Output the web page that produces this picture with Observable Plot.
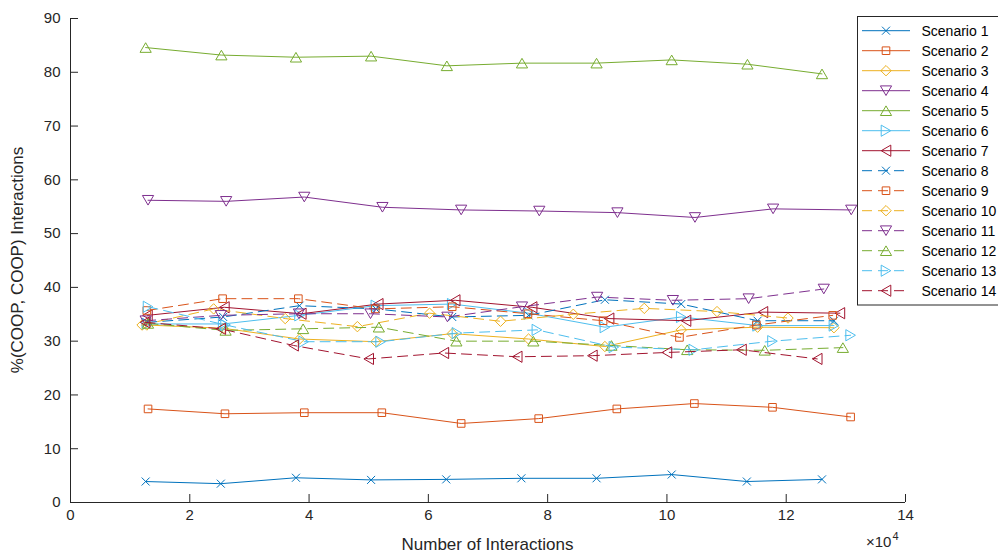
<!DOCTYPE html>
<html><head><meta charset="utf-8">
<script src="https://cdn.jsdelivr.net/npm/d3@7"></script>
<script src="https://cdn.jsdelivr.net/npm/@observablehq/plot@0.6"></script>
<style>body{margin:0;background:#fff;}</style>
</head><body><div id="chart"></div>
<script>
const scenarioNames = ["Scenario 1","Scenario 2","Scenario 3","Scenario 4","Scenario 5","Scenario 6","Scenario 7",
  "Scenario 8","Scenario 9","Scenario 10","Scenario 11","Scenario 12","Scenario 13","Scenario 14"];
const colors = ["#0072BD","#D95319","#EDB120","#7E2F8E","#77AC30","#4DBEEE","#A2142F"];
const markerTypes = ["x","square","diamond","down","up","right","left"];

const x1 = [12600,25200,37800,50400,63000,75600,88200,100800,113400,126000];
const y1 = [3.9,3.5,4.6,4.2,4.3,4.5,4.5,5.2,3.9,4.3];
const x2 = [13000,25900,39200,52200,65500,78500,91600,104600,117700,130800];
const y2 = [17.4,16.5,16.7,16.7,14.7,15.6,17.4,18.4,17.7,15.9];
const x3 = [12800,25600,38400,51200,64000,76800,89600,102400,115200,128000];
const y3 = [33.0,32.4,30.4,29.9,31.4,30.4,29.0,32.1,32.6,32.5];
const x4 = [13000,26100,39200,52300,65500,78600,91700,104700,117800,130900];
const y4 = [56.2,56.0,56.8,54.9,54.4,54.2,53.9,53.0,54.6,54.4];
const x5 = [12600,25300,37800,50400,63100,75700,88200,100800,113500,126000];
const y5 = [84.6,83.2,82.8,83.0,81.2,81.7,81.7,82.3,81.5,79.7];
const x6 = [12800,25600,38400,51200,64000,76800,89600,102400,115200,128000];
const y6 = [33.2,33.2,34.8,36.6,36.9,35.2,32.6,34.5,32.9,32.9];
const x7 = [12900,25800,38700,51600,64500,77400,90300,103200,116100,129000];
const y7 = [34.8,36.3,35.1,36.9,37.6,36.3,34.2,33.8,35.4,35.2];
const x8 = [12800,25600,38400,51200,64000,76800,89600,102400,115200,128000];
const y8 = [33.5,34.5,36.6,36.0,34.5,34.8,37.7,36.9,33.8,33.8];
const x9 = [12800,25500,38200,51100,64000,76700,89300,102100,115000,127800];
const y9 = [35.7,37.9,37.9,36.0,36.4,35.1,33.8,30.7,33.0,34.8];
const x10 = [12000,24000,36000,48100,60200,72100,84300,96200,108400,120300];
const y10 = [33.0,36.0,34.2,32.7,35.2,33.7,35.0,36.1,35.5,34.3];
const x11 = [12600,25200,38300,50300,63200,75700,88300,101000,113700,126300];
const y11 = [33.8,34.8,35.1,35.1,34.5,36.4,38.2,37.6,37.9,39.7];
const x12 = [13000,26000,39000,51700,64700,77600,90700,103400,116400,129500];
const y12 = [33.3,32.0,32.3,32.6,30.0,30.0,29.2,28.4,28.3,28.8];
const x13 = [13000,26000,39100,52000,64800,78200,91100,104500,117700,130800];
const y13 = [36.4,33.0,29.9,29.9,31.5,32.1,28.9,28.4,30.0,31.1];
const x14 = [12500,25200,37400,50000,62600,74900,87500,100000,112500,125200];
const y14 = [33.5,32.3,29.2,26.7,27.8,27.1,27.3,27.9,28.4,26.7];

const xTicks = [0,20000,40000,60000,80000,100000,120000,140000];
const yTicks = [0,10,20,30,40,50,60,70,80,90];

const xs = [x1,x2,x3,x4,x5,x6,x7,x8,x9,x10,x11,x12,x13,x14];
const ys = [y1,y2,y3,y4,y5,y6,y7,y8,y9,y10,y11,y12,y13,y14];

function makeSymbol(type) {
  return {draw(c) {
    if (type === "x") { const r = 4; c.moveTo(-r,-r); c.lineTo(r,r); c.moveTo(r,-r); c.lineTo(-r,r); }
    else if (type === "square") { const r = 3.8; c.moveTo(-r,-r); c.lineTo(r,-r); c.lineTo(r,r); c.lineTo(-r,r); c.closePath(); }
    else if (type === "diamond") { const r = 5.2; c.moveTo(0,-r); c.lineTo(r,0); c.lineTo(0,r); c.lineTo(-r,0); c.closePath(); }
    else {
      const w = 5.6, h = 4.8;
      if (type === "up") { c.moveTo(0,-h); c.lineTo(w,h); c.lineTo(-w,h); }
      else if (type === "down") { c.moveTo(0,h); c.lineTo(w,-h); c.lineTo(-w,-h); }
      else if (type === "right") { c.moveTo(h,0); c.lineTo(-h,w); c.lineTo(-h,-w); }
      else { c.moveTo(-h,0); c.lineTo(h,w); c.lineTo(h,-w); }
      c.closePath();
    }
  }};
}
const symbols = Object.fromEntries(markerTypes.map(t => [t, makeSymbol(t)]));
const dash = "10,6";

const marks = [];
scenarioNames.forEach((name, i) => {
  const data = xs[i].map((x, j) => ({x, y: ys[i][j]}));
  const color = colors[i % 7];
  const dashed = i >= 7;
  marks.push(Plot.line(data, {x: "x", y: "y", stroke: color, strokeWidth: 1, strokeDasharray: dashed ? dash : null}));
  marks.push(Plot.dot(data, {x: "x", y: "y", symbol: symbols[markerTypes[i % 7]], r: 4, fill: "none", stroke: color, strokeWidth: 1}));
});

const W = 998, H = 554, mL = 70, mR = 93, mT = 18, mB = 52;
const axisColor = "#262626";

const chart = Plot.plot({
  width: W, height: H,
  marginLeft: mL, marginRight: mR, marginTop: mT, marginBottom: mB,
  x: {domain: [0, 140000]},
  y: {domain: [0, 90]},
  style: {fontFamily: "'Liberation Sans', Arial, sans-serif", color: axisColor, background: "white", overflow: "visible"},
  marks: [
    Plot.gridX(xTicks, {insetTop: H - mT - mB - 8, stroke: axisColor, strokeOpacity: 1, strokeWidth: 1}),
    Plot.gridY(yTicks, {insetRight: W - mL - mR - 8, stroke: axisColor, strokeOpacity: 1, strokeWidth: 1}),
    Plot.axisX(xTicks, {tickSize: 0, tickPadding: 7, tickFormat: d => d / 1e4, fontSize: 15, label: null}),
    Plot.axisY(yTicks, {tickSize: 0, tickPadding: 10, fontSize: 15, label: null}),
    ...marks,
    Plot.ruleX([0], {stroke: axisColor, strokeWidth: 1}),
    Plot.ruleY([0], {stroke: axisColor, strokeWidth: 1})
  ]
});

const svg = d3.select(chart);
const font = "'Liberation Sans', Arial, sans-serif";
svg.append("text").attr("x", (mL + W - mR) / 2).attr("y", 550).attr("text-anchor", "middle")
  .attr("font-size", 17).attr("font-family", font).attr("fill", axisColor).text("Number of Interactions");
svg.append("text").attr("transform", `translate(23,${(mT + H - mB) / 2}) rotate(-90)`).attr("text-anchor", "middle")
  .attr("font-size", 17).attr("font-family", font).attr("fill", axisColor).text("%(COOP, COOP) Interactions");
const exp = svg.append("text").attr("x", 866).attr("y", 547).attr("text-anchor", "start")
  .attr("font-size", 15).attr("font-family", font).attr("fill", axisColor);
exp.append("tspan").text("×10");
exp.append("tspan").attr("font-size", 11).attr("dy", -7).attr("dx", 1).text("4");

// legend
const lg = svg.append("g").attr("text-anchor", "start");
lg.append("rect").attr("x", 857.5).attr("y", 16.5).attr("width", 150).attr("height", 288.5)
  .attr("fill", "white").attr("stroke", axisColor).attr("stroke-width", 1);
scenarioNames.forEach((name, i) => {
  const yy = 30.7 + 20 * i;
  const color = colors[i % 7];
  lg.append("line").attr("x1", 862).attr("x2", 910).attr("y1", yy).attr("y2", yy)
    .attr("stroke", color).attr("stroke-width", 1).attr("stroke-dasharray", i >= 7 ? dash : null);
  lg.append("path").attr("d", d3.symbol().type(symbols[markerTypes[i % 7]])()).attr("transform", `translate(886,${yy})`)
    .attr("fill", "none").attr("stroke", color).attr("stroke-width", 1);
  lg.append("text").attr("x", 921.5).attr("y", yy).attr("dy", "0.35em").attr("font-size", 14)
    .attr("text-anchor", "start").attr("font-family", font).attr("fill", "#000").text(name);
});

document.getElementById("chart").appendChild(chart);
</script>
</body></html>
